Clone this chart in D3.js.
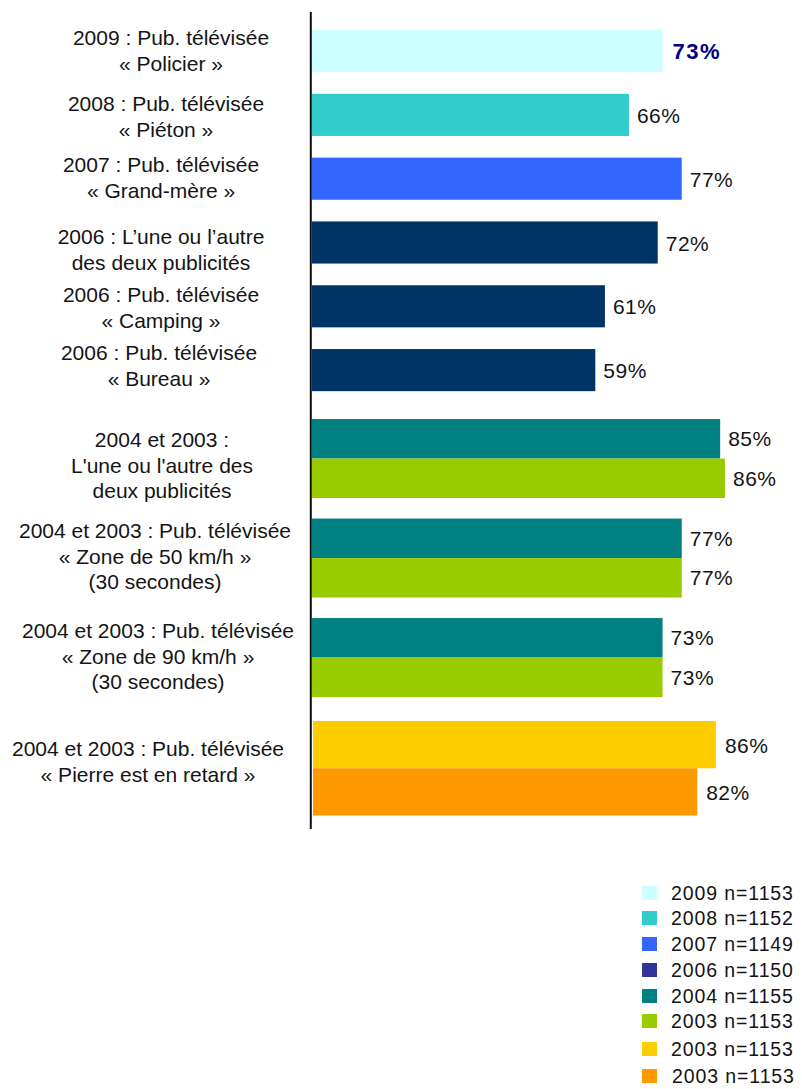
<!DOCTYPE html>
<html>
<head>
<meta charset="utf-8">
<script src="https://cdn.jsdelivr.net/npm/d3@7"></script>
<style>
  html, body { margin: 0; padding: 0; background: #fff; }
  svg { display: block; }
  text { font-family: "Liberation Sans", Arial, sans-serif; fill: #141414; }
</style>
</head>
<body>
<svg id="chart" width="802" height="1089"></svg>
<script>
// ---------- DATA ----------
const singleCats = ["2009 Policier", "2008 Piéton", "2007 Grand-mère", "2006 L'une ou l'autre", "2006 Camping", "2006 Bureau"];
const singleValues = [73, 66, 77, 72, 61, 59];
const singleLabels = [
  ["2009 : Pub. télévisée", "« Policier »"],
  ["2008 : Pub. télévisée", "« Piéton »"],
  ["2007 : Pub. télévisée", "« Grand-mère »"],
  ["2006 : L’une ou l’autre", "des deux publicités"],
  ["2006 : Pub. télévisée", "« Camping »"],
  ["2006 : Pub. télévisée", "« Bureau »"]
];

const pairCats = ["L'une ou l'autre", "Zone 50", "Zone 90"];
const pairSeries = ["2004", "2003"];
const values2004 = [85, 77, 73];
const values2003 = [86, 77, 73];
const pairLabels = [
  ["2004 et 2003 :", "L'une ou l'autre des", "deux publicités"],
  ["2004 et 2003 : Pub. télévisée", "« Zone de 50 km/h »", "(30 secondes)"],
  ["2004 et 2003 : Pub. télévisée", "« Zone de 90 km/h »", "(30 secondes)"]
];

const pierreSeries = ["2003 (a)", "2003 (b)"];
const pierreValues = [86, 82];
const pierreLabel = ["2004 et 2003 : Pub. télévisée", "« Pierre est en retard »"];

const legendLabels = ["2009 n=1153", "2008 n=1152", "2007 n=1149", "2006 n=1150", "2004 n=1155", "2003 n=1153", "2003 n=1153", "2003 n=1153"];

// ---------- STYLE / LAYOUT ----------
const singleColors = ["#CCFFFF", "#33CCCC", "#3366FF", "#003366", "#003366", "#003366"];
const pairColors = { "2004": "#008080", "2003": "#99CC00" };
const pierreColors = ["#FFCC00", "#FF9900"];
const legendColors = ["#CCFFFF", "#33CCCC", "#3366FF", "#333399", "#008080", "#99CC00", "#FFCC00", "#FF9900"];

const singleLabelCx = [171, 166, 161, 161, 161, 159];
const singleLabelBase = [45, 111, 172, 244, 302, 360];
const pairLabelCx = [162, 155, 158];
const pairLabelBase = [447, 538, 638];
const pierreLabelCx = 148, pierreLabelBase = 756;
const legendY = [886, 911, 937, 963, 989, 1014, 1042, 1069];
const legendTextDx = [0, 0, 0, 0, 0, 0, 0, 1];

const svg = d3.select("#chart");

// ---------- SCALES ----------
const x = d3.scaleLinear().domain([0, 100]).range([312, 792.2]);
const xP = d3.scaleLinear().domain([0, 100]).range([313, 781.5]);

const ySingle = d3.scaleBand().domain(singleCats).range([19.2, 402]).paddingInner(0.34).paddingOuter(0.17);
const yPair = d3.scaleBand().domain(pairCats).range([408.8, 707.3]).paddingInner(0.206).paddingOuter(0.103);
const ySub = d3.scaleBand().domain(pairSeries).range([0, yPair.bandwidth()]);
const yPierre = d3.scaleBand().domain(pierreSeries).range([721, 815.5]);

const FS = 21;

// ---------- SINGLE BARS ----------
const singleData = singleCats.map((c, i) => ({ c, v: singleValues[i], i }));
svg.append("g").selectAll("rect").data(singleData).join("rect")
  .attr("x", x(0)).attr("y", d => ySingle(d.c))
  .attr("width", d => x(d.v) - x(0)).attr("height", ySingle.bandwidth())
  .attr("fill", d => singleColors[d.i]);

svg.append("g").selectAll("text").data(singleData).join("text")
  .attr("x", d => x(d.v) + (d.i === 0 ? 10 : 8))
  .attr("y", d => ySingle(d.c) + ySingle.bandwidth() / 2 + 8)
  .attr("font-size", d => d.i === 0 ? 22 : FS)
  .attr("font-weight", d => d.i === 0 ? "bold" : "normal")
  .attr("letter-spacing", d => d.i === 0 ? 1.5 : 0.5)
  .style("fill", d => d.i === 0 ? "#000080" : "#141414")
  .text(d => d.v + "%");

// labels
singleLabels.forEach((lines, i) => {
  const t = svg.append("text").attr("text-anchor", "middle").attr("font-size", FS);
  lines.forEach((l, j) => t.append("tspan").attr("x", singleLabelCx[i]).attr("y", singleLabelBase[i] + j * 25.5).text(l));
});

// ---------- PAIR BARS ----------
const pairData = [];
pairCats.forEach((c, i) => {
  pairData.push({ c, s: "2004", v: values2004[i] });
  pairData.push({ c, s: "2003", v: values2003[i] });
});
svg.append("g").selectAll("rect").data(pairData).join("rect")
  .attr("x", x(0)).attr("y", d => yPair(d.c) + ySub(d.s))
  .attr("width", d => x(d.v) - x(0)).attr("height", ySub.bandwidth())
  .attr("fill", d => pairColors[d.s]);
svg.append("g").selectAll("text").data(pairData).join("text")
  .attr("x", d => x(d.v) + 8)
  .attr("y", d => yPair(d.c) + ySub(d.s) + ySub.bandwidth() / 2 + 7.5)
  .attr("font-size", FS).attr("letter-spacing", 0.5)
  .text(d => d.v + "%");

pairLabels.forEach((lines, i) => {
  const t = svg.append("text").attr("text-anchor", "middle").attr("font-size", FS);
  lines.forEach((l, j) => t.append("tspan").attr("x", pairLabelCx[i]).attr("y", pairLabelBase[i] + j * 25.5).text(l));
});

// ---------- PIERRE BARS ----------
const pierreData = pierreSeries.map((s, i) => ({ s, v: pierreValues[i], i }));
svg.append("g").selectAll("rect").data(pierreData).join("rect")
  .attr("x", xP(0)).attr("y", d => yPierre(d.s))
  .attr("width", d => xP(d.v) - xP(0)).attr("height", yPierre.bandwidth())
  .attr("fill", d => pierreColors[d.i]);
svg.append("g").selectAll("text").data(pierreData).join("text")
  .attr("x", d => xP(d.v) + 9)
  .attr("y", d => yPierre(d.s) + yPierre.bandwidth() / 2 + 8)
  .attr("font-size", FS).attr("letter-spacing", 0.5)
  .text(d => d.v + "%");
{
  const t = svg.append("text").attr("text-anchor", "middle").attr("font-size", FS);
  pierreLabel.forEach((l, j) => t.append("tspan").attr("x", pierreLabelCx).attr("y", pierreLabelBase + j * 26).text(l));
}

// ---------- AXIS LINE ----------
svg.append("line")
  .attr("x1", 310.8).attr("x2", 310.8).attr("y1", 12).attr("y2", 829)
  .attr("stroke", "#111").attr("stroke-width", 2);

// ---------- LEGEND ----------
const lg = svg.append("g");
legendLabels.forEach((l, i) => {
  lg.append("rect").attr("x", 642).attr("y", legendY[i]).attr("width", 15).attr("height", 14).attr("fill", legendColors[i]);
  lg.append("text").attr("x", 671 + legendTextDx[i]).attr("y", legendY[i] + 14)
    .attr("font-size", 19.5).attr("letter-spacing", 0.9).text(l);
});
</script>
</body>
</html>
